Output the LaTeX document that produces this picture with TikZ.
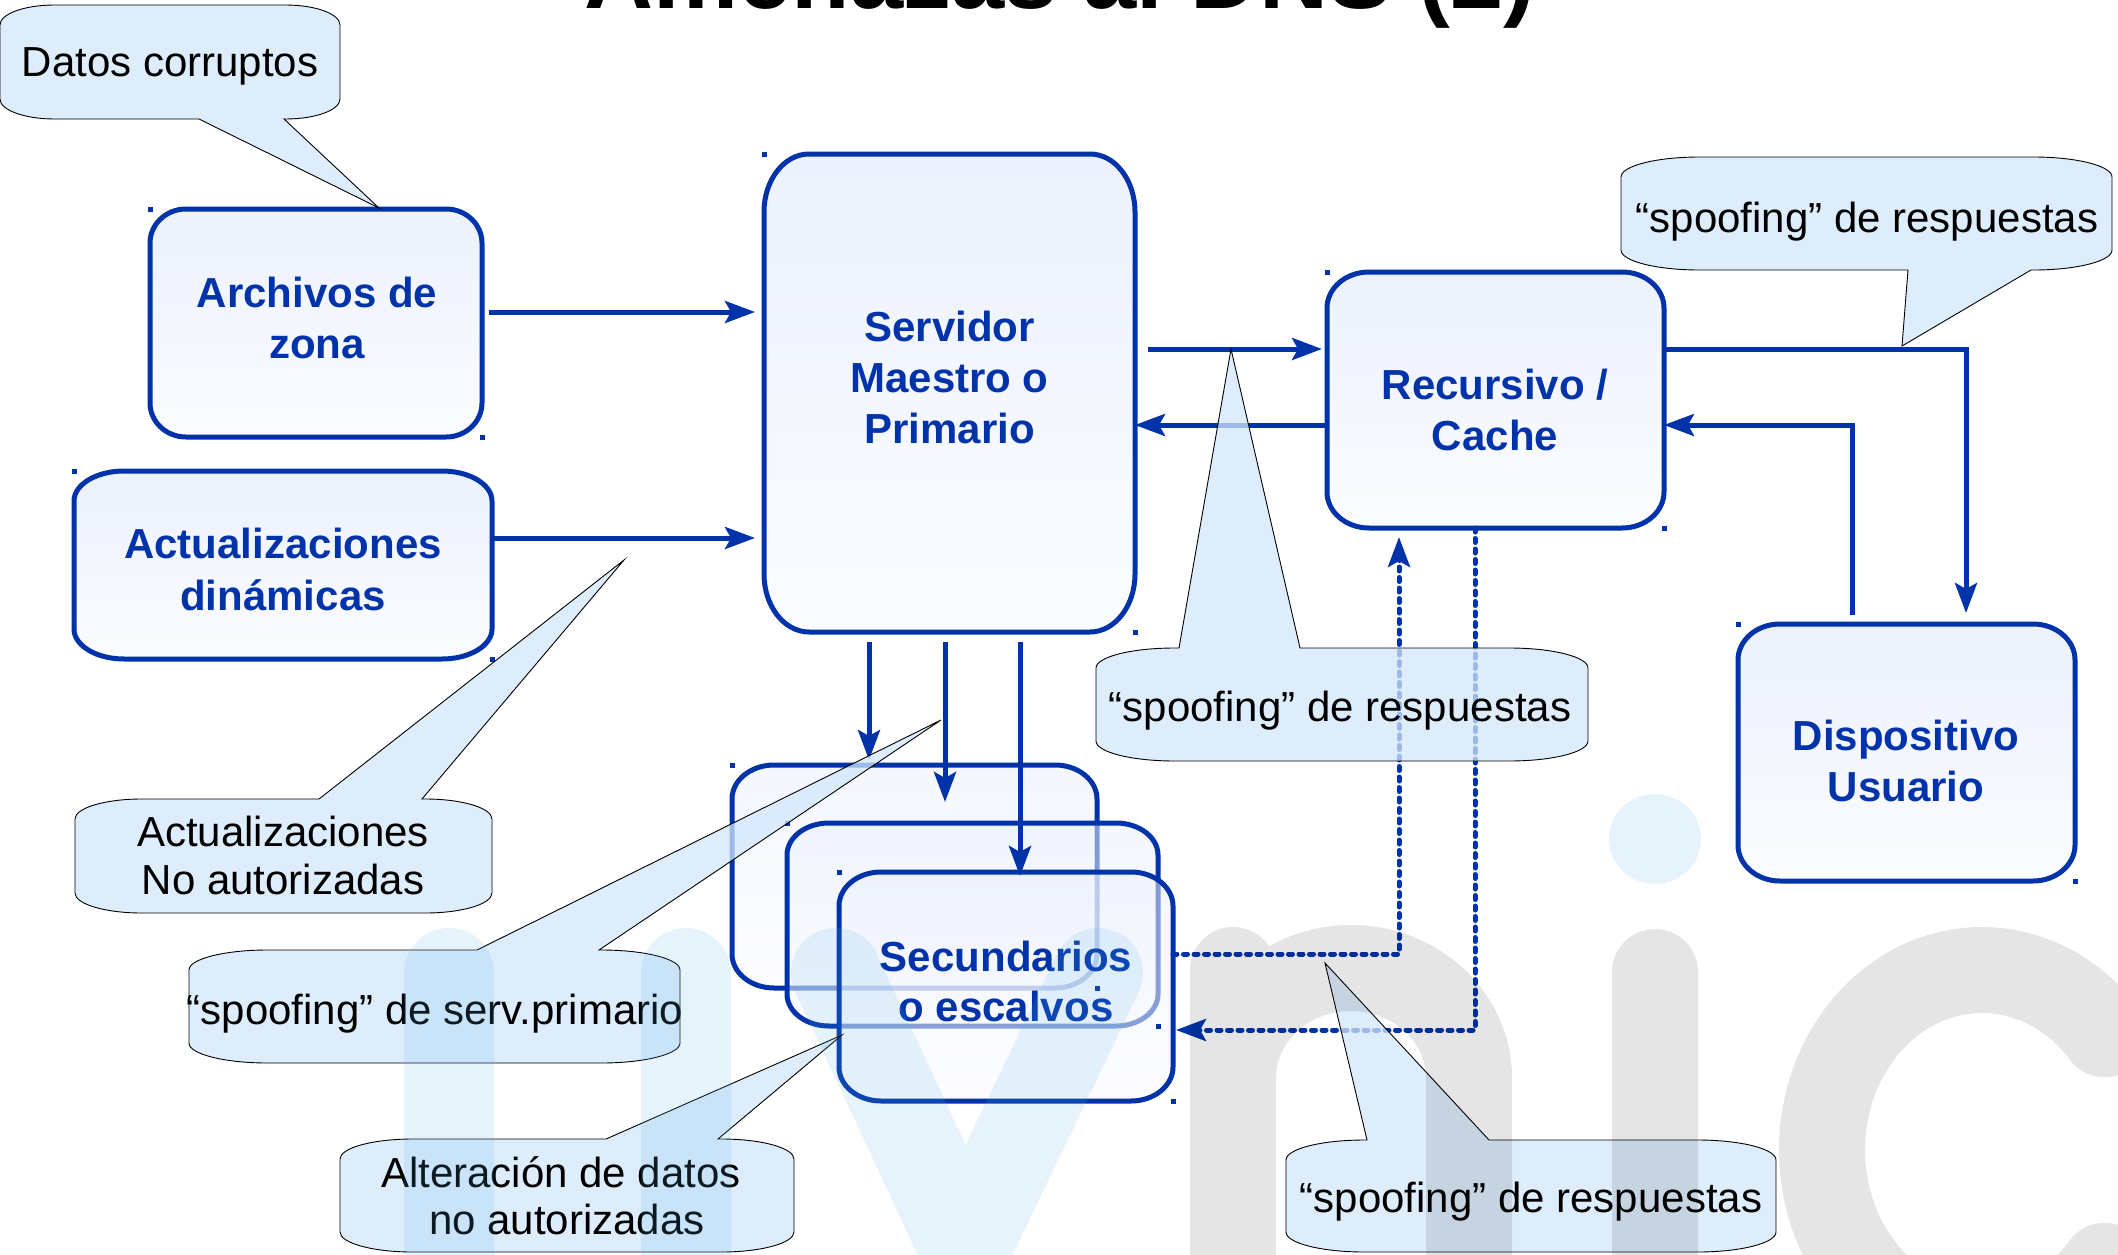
\documentclass[tikz,border=0pt]{standalone}
\usepackage{fontspec}
\setmainfont{Liberation Sans}[Ligatures=CommonOff]
\usetikzlibrary{arrows.meta,calc}
\definecolor{dblue}{RGB}{0,51,170}
\definecolor{boxtop}{RGB}{236,241,253}
\definecolor{boxbot}{RGB}{251,252,255}
\definecolor{callfill}{RGB}{210,231,252}
\definecolor{wmblue}{rgb}{0.35,0.7,0.9}

% rounded box with elliptic corners drawn around a named node
\newcommand\ebox[4]{%
  \path[#1] ([xshift=-#3pt]#2.north east) arc[start angle=90,end angle=0,x radius=#3pt,y radius=#4pt]
   -- ([yshift=#4pt]#2.south east) arc[start angle=0,end angle=-90,x radius=#3pt,y radius=#4pt]
   -- ([xshift=#3pt]#2.south west) arc[start angle=-90,end angle=-180,x radius=#3pt,y radius=#4pt]
   -- ([yshift=-#4pt]#2.north west) arc[start angle=180,end angle=90,x radius=#3pt,y radius=#4pt]
   -- cycle;}
% callout, pointer on top edge: x1 y1 x2 y2 b1 b2 tipx tipy
\newcommand\calltop[8]{%
  \path[callst] ({#1+0.16*(#3-#1)},-#2) -- (#5,-#2) -- (#7,-#8) -- (#6,-#2) -- ({#3-0.16*(#3-#1)},-#2)
   arc[start angle=90,end angle=0,x radius={0.16*(#3-#1)},y radius=20]
   -- (#3,{-#4+20}) arc[start angle=0,end angle=-90,x radius={0.16*(#3-#1)},y radius=20]
   -- ({#1+0.16*(#3-#1)},-#4) arc[start angle=-90,end angle=-180,x radius={0.16*(#3-#1)},y radius=20]
   -- (#1,{-#2-20}) arc[start angle=180,end angle=90,x radius={0.16*(#3-#1)},y radius=20] -- cycle;}
% callout, pointer on bottom edge
\newcommand\callbot[8]{%
  \path[callst] ({#1+0.16*(#3-#1)},-#2) -- ({#3-0.16*(#3-#1)},-#2)
   arc[start angle=90,end angle=0,x radius={0.16*(#3-#1)},y radius=20]
   -- (#3,{-#4+20}) arc[start angle=0,end angle=-90,x radius={0.16*(#3-#1)},y radius=20]
   -- (#6,-#4) -- (#7,-#8) -- (#5,-#4)
   -- ({#1+0.16*(#3-#1)},-#4) arc[start angle=-90,end angle=-180,x radius={0.16*(#3-#1)},y radius=20]
   -- (#1,{-#2-20}) arc[start angle=180,end angle=90,x radius={0.16*(#3-#1)},y radius=20] -- cycle;}

\begin{document}
\begin{tikzpicture}[x=1pt,y=1pt,
  boxn/.style={rectangle,draw=none,inner sep=0pt,outer sep=0pt},
  boxst/.style={top color=boxtop,bottom color=boxbot,draw=dblue,line width=5pt},
  secst/.style={boxst,fill opacity=0.55},
  btxt/.style={text=dblue,font=\fontsize{42}{51}\selectfont\bfseries,anchor=base,inner sep=0pt},
  ctxt/.style={text=black,font=\fontsize{42}{47}\selectfont,anchor=base,inner sep=0pt},
  titlest/.style={text=black,font=\fontsize{95.6}{110}\selectfont\bfseries,anchor=base,inner sep=0pt},
  callst/.style={fill=callfill,fill opacity=0.75,draw=black,line width=0.9pt},
  conn/.style={draw=dblue,line width=5pt,-{Stealth[length=30pt,width=22pt,inset=6pt]}},
  dconn/.style={conn,line width=5pt,dash pattern=on 4pt off 6.5pt,line cap=round}]
\path[use as bounding box] (0,0) rectangle (2118,-1255);
\clip (0,0) rectangle (2118,-1255);
\fill[white] (0,0) rectangle (2118,-1255);

% title (mostly cut off by the top edge)
\node[titlest] (title) at (1060,-9) {Amenazas al DNS (2)};

% box nodes
\node[boxn,minimum width=332pt,minimum height=228pt] (arch) at (316,-323) {};
\node[boxn,minimum width=371pt,minimum height=478pt] (serv) at (949.5,-393) {};
\node[boxn,minimum width=337pt,minimum height=256pt] (recu) at (1495.5,-400) {};
\node[boxn,minimum width=418pt,minimum height=188pt] (actu) at (283,-565) {};
\node[boxn,minimum width=337pt,minimum height=257pt] (disp) at (1906.5,-752.5) {};
\node[boxn,minimum width=365pt,minimum height=223pt] (sec1) at (914.5,-876.5) {};
\node[boxn,minimum width=371pt,minimum height=203pt] (sec2) at (972.5,-924.5) {};
\node[boxn,minimum width=334pt,minimum height=229pt] (sec3) at (1006,-986.5) {};

\ebox{boxst}{arch}{36}{34}
\ebox{boxst}{serv}{45}{58}
\ebox{boxst}{recu}{42}{36}
\ebox{boxst}{actu}{50}{30}
\ebox{boxst}{disp}{42}{36}
\ebox{secst}{sec1}{42}{34}
\ebox{secst}{sec2}{42}{32}
\ebox{secst}{sec3}{42}{34}

\foreach \n in {arch,serv,recu,actu,disp,sec1,sec2,sec3}{
  \fill[dblue] ([shift={(-2.5,-2.5)}]\n.north west) rectangle ++(5,5);
  \fill[dblue] ([shift={(-2.5,-2.5)}]\n.south east) rectangle ++(5,5);
}

% box labels
\node[btxt] (archA) at (317,-307) {Archivos de};
\node[btxt] (archB) at (317,-358) {zona};
\node[btxt] (servA) at (949.5,-341) {Servidor};
\node[btxt] (servB) at (949.5,-392) {Maestro o};
\node[btxt] (servC) at (949.5,-443) {Primario};
\node[btxt] (recuA) at (1495,-399) {Recursivo /};
\node[btxt] (recuB) at (1495,-450) {Cache};
\node[btxt] (actuA) at (283,-558) {Actualizaciones};
\node[btxt] (actuB) at (283,-610) {dinámicas};
\node[btxt] (dispA) at (1906,-750) {Dispositivo};
\node[btxt] (dispB) at (1906,-801) {Usuario};
\node[btxt] (secA) at (1006,-971) {Secundarios};
\node[btxt] (secB) at (1006,-1021) {o escalvos};

% routing coordinates
\coordinate (yA) at (0,-312);
\coordinate (yB) at (0,-538);
\coordinate (yC) at (0,-349);
\coordinate (yD) at (0,-425);
\coordinate (xE) at (1966,0);
\coordinate (xF) at (1852,0);
\coordinate (xG1) at (869,0);
\coordinate (xG2) at (945,0);
\coordinate (xG3) at (1020,0);
\coordinate (yH) at (0,-954);
\coordinate (xH) at (1399,0);
\coordinate (xI) at (1475,0);
\coordinate (yI) at (0,-1030);

% connectors
\draw[conn,shorten <=7pt,shorten >=9pt] (arch.east |- yA) -- (serv.west |- yA);
\draw[conn,shorten >=9pt] (actu.east |- yB) -- (serv.west |- yB);
\draw[conn,shorten <=13pt,shorten >=5pt] (serv.east |- yC) -- (recu.west |- yC);
\draw[conn] (recu.west |- yD) -- (serv.east |- yD);
\draw[conn,shorten >=11pt] (recu.east |- yC) -| (xE |- disp.north);
\draw[conn,shorten <=9pt] (xF |- disp.north) |- (recu.east |- yD);
\draw[conn,shorten <=10pt,shorten >=5pt] (xG1 |- serv.south) -- (xG1 |- sec1.north);
\draw[conn,shorten <=10pt,shorten >=21pt] (xG2 |- serv.south) -- (xG2 |- sec2.north);
\draw[conn,shorten <=10pt,shorten >=-4pt] (xG3 |- serv.south) -- (xG3 |- sec3.north);
\draw[dconn,shorten >=9pt] (sec3.east |- yH) -| (xH |- recu.south);
\draw[dconn,shorten >=3pt] (xI |- recu.south) |- (sec3.east |- yI);

% callouts
\callbot{0}{5}{340}{119}{199}{284}{379}{208}
\callbot{1621}{157}{2112}{270}{1908}{2031}{1902}{346}
\calltop{1096}{648}{1588}{761}{1179}{1300}{1231}{349}
\calltop{75}{799}{492}{913}{319}{422}{624}{560}
\calltop{189}{950}{680}{1063}{477}{599}{941}{720}
\calltop{340}{1139}{794}{1252}{606}{718}{842}{1035}
\calltop{1286}{1140}{1776}{1252}{1367}{1489}{1325}{963}

\node[ctxt] (t1) at (170,-77) {Datos corruptos};
\node[ctxt] (t2) at (1867,-232) {“spoofing” de respuestas};
\node[ctxt] (t3) at (1340,-721) {“spoofing” de respuestas};
\node[ctxt] (t4a) at (283,-846) {Actualizaciones};
\node[ctxt] (t4b) at (283,-894) {No autorizadas};
\node[ctxt] (t5) at (435,-1024) {“spoofing” de serv.primario};
\node[ctxt] (t6a) at (561,-1187) {Alteración de datos};
\node[ctxt] (t6b) at (567,-1234) {no autorizadas};
\node[ctxt] (t7) at (1531,-1212) {“spoofing” de respuestas};

% watermark
\begin{scope}[opacity=0.1]
  \draw[black,line width=86pt,line cap=round]
    (1233,-970) -- (1233,-1320)
    (1233,-1078) arc[start angle=180,end angle=0,x radius=118,y radius=110] -- (1469,-1320)
    (1655,-972) -- (1655,-1320)
    ([shift={(40:160 and 180)}]1982,-1150) arc[start angle=40,end angle=320,x radius=160,y radius=180];
\end{scope}
\begin{scope}[opacity=0.15]
  \draw[wmblue,line width=90pt,line cap=round,line join=round]
    (449,-973) -- (449,-1320)
    (686,-973) -- (686,-1320)
    (836,-973) -- (965,-1250) -- (1098,-973);
  \fill[wmblue] (1655,-839) ellipse[x radius=46,y radius=45];
\end{scope}
\end{tikzpicture}
\end{document}
